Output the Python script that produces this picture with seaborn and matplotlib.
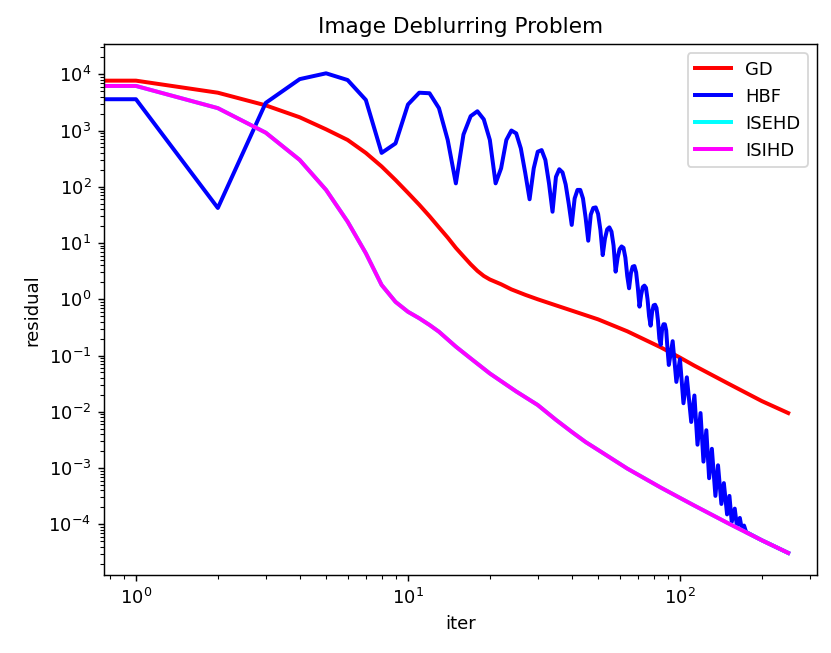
import matplotlib
matplotlib.use('Agg')
import matplotlib.pyplot as plt
import seaborn as sns

# ─── Data (iteration, residual) ───
gd_iter = [0, 1, 2, 3, 4, 5, 6, 7, 8, 9, 10, 11, 12, 13, 14, 15, 16, 17, 18, 19,
           20, 22, 24, 27, 30, 35, 40, 50, 64, 85, 100, 113, 150, 200, 250]
gd_res = [7.7e3, 7.7e3, 4.7e3, 2.8e3, 1.72e3, 1.05e3, 680, 400, 230, 132,
          78, 48, 30, 19, 12.5, 8.2, 5.8, 4.2, 3.2, 2.6,
          2.25, 1.85, 1.5, 1.2, 1.0, 0.78, 0.63, 0.44, 0.27, 0.14,
          0.092, 0.066, 0.032, 0.0155, 0.0095]

hbf_iter = [0, 1, 2, 3, 4, 5, 6, 7, 8, 9, 10, 11, 12, 13, 14, 15, 16, 17, 18, 19,
            20, 21, 22, 23, 24, 25, 26, 27, 28, 29, 30, 31, 32, 33, 34,
            35, 36, 37, 38, 39, 40, 41, 42, 43, 44, 45, 46, 47, 48, 49, 50, 51,
            52, 53, 54, 55, 56, 57, 58, 59, 60, 61, 62, 63, 64, 65, 66, 67, 68,
            69, 70, 71, 72, 73, 74, 75, 76, 77, 78, 79, 80, 81, 82, 83, 84, 85,
            86, 87, 88, 89, 90, 91,
            94, 97, 100, 103, 106, 110, 113, 116, 119, 122, 125, 128, 131,
            135, 138, 142, 145, 149, 152, 155, 159, 162, 166, 169, 172, 175,
            180, 200, 250]
hbf_res = [3.6e3, 3.6e3, 42, 3.1e3, 8.2e3, 1.04e4, 7.9e3, 3.5e3, 400, 590,
           2.9e3, 4.7e3, 4.6e3, 2.5e3, 680, 115, 850, 1.8e3, 2.2e3, 1.58e3,
           680, 115, 213, 680, 1.0e3, 890, 480, 174, 60, 213, 420, 449, 300, 115, 36,
           150, 205, 180, 110, 50, 21, 62, 88, 88, 62, 28, 11, 32, 42, 43, 33, 17,
           6.1, 12, 17.5, 19, 16, 9, 3.1, 5.5, 7.8, 8.7, 8.2, 5.5, 2.6, 1.57,
           2.9, 3.8, 3.9, 3.0, 1.6, 0.74, 1.2, 1.65, 1.75, 1.6, 1.0, 0.5, 0.34,
           0.6, 0.78, 0.8, 0.7, 0.42, 0.2, 0.155, 0.3, 0.36, 0.36, 0.28, 0.13, 0.068,
           0.18, 0.034, 0.086, 0.0142, 0.041, 0.0066,
           0.0195, 0.0026, 0.0095, 0.0013, 0.0047, 6.6e-4, 2.2e-3, 3.2e-4, 1.12e-3,
           2.3e-4, 5.4e-4, 1.5e-4, 3.2e-4, 1.1e-4, 1.9e-4, 9.2e-5, 1.3e-4, 8.0e-5,
           9.5e-5, 7.3e-5, 6.8e-5, 5.2e-5, 3.1e-5]

isihd_iter = [0, 1, 2, 3, 4, 5, 6, 7, 8, 9, 10, 11, 12, 13, 15, 17, 20, 25, 30,
              35, 40, 45, 50, 64, 85, 100, 113, 150, 200, 250]
isihd_res = [6.2e3, 6.2e3, 2.5e3, 916, 300, 88, 24, 6.6, 1.8, 0.9, 0.6, 0.46,
             0.35, 0.265, 0.144, 0.089, 0.048, 0.023, 0.0132, 0.0072, 0.0044,
             0.0029, 0.0021, 9.8e-4, 4.5e-4, 2.95e-4, 2.15e-4, 1.05e-4, 5.2e-5, 3.1e-5]

# ISEHD is completely hidden under ISIHD in the picture
isehd_iter = isihd_iter
isehd_res = isihd_res

series = [
    (gd_iter, gd_res, 'red', 'GD'),
    (hbf_iter, hbf_res, 'blue', 'HBF'),
    (isehd_iter, isehd_res, 'cyan', 'ISEHD'),
    (isihd_iter, isihd_res, 'magenta', 'ISIHD'),
]

fig = plt.figure(figsize=(831 / 130, 653 / 130), dpi=130)
ax = fig.add_axes([104 / 831, 78 / 653, 713 / 831, 530.7 / 653])

for it, res, color, name in series:
    sns.lineplot(x=it, y=res, color=color, linewidth=2.2, label=name, ax=ax)

ax.set_xscale('log')
ax.set_yscale('log')
ax.set_xlim(0.763, 319)
ax.set_ylim(1.256e-5, 3.41e4)

ax.set_title('Image Deblurring Problem')
ax.set_xlabel('iter')
ax.set_ylabel('residual')
ax.legend(loc='upper right')

fig.savefig('out.png', dpi=130)
